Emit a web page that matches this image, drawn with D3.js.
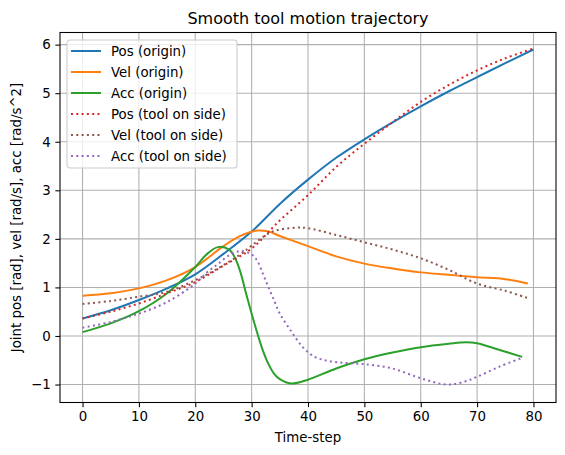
<!DOCTYPE html>
<html>
<head>
<meta charset="utf-8">
<script src="https://cdn.jsdelivr.net/npm/d3@7"></script>
<style>
  body { margin: 0; background: #fff; }
  text { font-family: "DejaVu Sans", sans-serif; fill: #000; }
</style>
</head>
<body>
<div id="chart"></div>
<script>
//// DATA ////

// time-steps and values
var posOriginT = [0, 5, 10, 15, 20, 25, 30, 35, 40, 45, 50, 55, 60, 65, 70, 75, 80];
var posOrigin  = [0.36, 0.53, 0.74, 0.98, 1.27, 1.69, 2.15, 2.72, 3.22, 3.67, 4.05, 4.40, 4.73, 5.04, 5.33, 5.62, 5.90];

var velOriginT = [0, 5, 10, 15, 20, 25, 28, 31, 33, 35, 40, 45, 50, 55, 60, 65, 70, 75, 79];
var velOrigin  = [0.83, 0.88, 0.98, 1.15, 1.42, 1.85, 2.06, 2.17, 2.15, 2.06, 1.85, 1.64, 1.49, 1.39, 1.31, 1.26, 1.21, 1.17, 1.08];

var accOriginT = [0, 5, 10, 15, 20, 22, 24, 26, 27, 28, 29, 30, 31, 32, 33, 34, 35, 37, 40, 45, 50, 55, 60, 65, 68, 70, 74, 78];
var accOrigin  = [0.08, 0.26, 0.51, 0.88, 1.42, 1.68, 1.83, 1.78, 1.62, 1.32, 0.88, 0.46, 0.06, -0.30, -0.58, -0.78, -0.89, -0.98, -0.90, -0.67, -0.48, -0.34, -0.23, -0.16, -0.13, -0.15, -0.29, -0.43];

var posToolT = [0, 5, 10, 15, 20, 25, 30, 35, 40, 45, 50, 55, 60, 65, 70, 75, 80];
var posTool  = [0.36, 0.50, 0.67, 0.88, 1.11, 1.45, 1.80, 2.38, 2.90, 3.48, 3.96, 4.40, 4.82, 5.17, 5.47, 5.72, 5.92];

var velToolT = [0, 5, 10, 15, 20, 24, 28, 30, 33.5, 37.7, 40, 45, 50, 55, 60, 65, 70, 75, 79];
var velTool  = [0.66, 0.72, 0.81, 0.91, 1.15, 1.39, 1.68, 1.86, 2.14, 2.23, 2.22, 2.08, 1.93, 1.78, 1.60, 1.36, 1.08, 0.93, 0.78];

var accToolT = [0, 5, 10, 15, 20, 22, 24, 26, 28, 30, 31, 32, 33, 34, 35, 37, 39, 41, 43, 46, 50, 55, 60, 64.5, 67.5, 70, 74, 78];
var accTool  = [0.17, 0.29, 0.46, 0.70, 1.08, 1.30, 1.48, 1.66, 1.75, 1.68, 1.55, 1.28, 1.00, 0.73, 0.46, 0.10, -0.22, -0.42, -0.50, -0.55, -0.58, -0.67, -0.87, -1.00, -0.95, -0.84, -0.63, -0.45];

var xTicks = [0, 10, 20, 30, 40, 50, 60, 70, 80];
var yTicks = [-1, 0, 1, 2, 3, 4, 5, 6];

var series = [
  { name: "Pos (origin)",       t: posOriginT, v: posOrigin, color: "#1f77b4", dotted: false },
  { name: "Vel (origin)",       t: velOriginT, v: velOrigin, color: "#ff7f0e", dotted: false },
  { name: "Acc (origin)",       t: accOriginT, v: accOrigin, color: "#2ca02c", dotted: false },
  { name: "Pos (tool on side)", t: posToolT,   v: posTool,   color: "#d62728", dotted: true },
  { name: "Vel (tool on side)", t: velToolT,   v: velTool,   color: "#8c564b", dotted: true },
  { name: "Acc (tool on side)", t: accToolT,   v: accTool,   color: "#9467bd", dotted: true }
];

//// SET UP ////

var svgWidth = 565;
var svgHeight = 455;

var margin = { top: 32.5, right: 9, bottom: 52.5, left: 60 };

var width = svgWidth - margin.left - margin.right;
var height = svgHeight - margin.top - margin.bottom;

var svg = d3.select("#chart")
  .append("svg")
  .attr("width", svgWidth)
  .attr("height", svgHeight);

var chartGroup = svg.append("g")
  .attr("transform", `translate(${margin.left}, ${margin.top})`);

var xScale = d3.scaleLinear().domain([-4, 84]).range([0, width]);
var yScale = d3.scaleLinear().domain([-1.37, 6.25]).range([height, 0]);

// grid
chartGroup.append("g")
  .selectAll("line")
  .data(xTicks)
  .enter()
  .append("line")
  .attr("x1", d => xScale(d)).attr("x2", d => xScale(d))
  .attr("y1", 0).attr("y2", height)
  .attr("stroke", "#b0b0b0")
  .attr("stroke-width", 1.07);

chartGroup.append("g")
  .selectAll("line")
  .data(yTicks)
  .enter()
  .append("line")
  .attr("x1", 0).attr("x2", width)
  .attr("y1", d => yScale(d)).attr("y2", d => yScale(d))
  .attr("stroke", "#b0b0b0")
  .attr("stroke-width", 1.07);

// lines
var line = d3.line()
  .x(d => xScale(d[0]))
  .y(d => yScale(d[1]))
  .curve(d3.curveCatmullRom.alpha(0.5));

series.forEach(function(s) {
  var pts = s.t.map((t, i) => [t, s.v[i]]);
  chartGroup.append("path")
    .datum(pts)
    .attr("d", line)
    .attr("fill", "none")
    .attr("stroke", s.color)
    .attr("stroke-width", 2)
    .attr("stroke-dasharray", s.dotted ? "2,3.3" : null);
});

// axes
var fmt = d => d < 0 ? "\u2212" + Math.abs(d) : String(d);

var bottomAxis = d3.axisBottom(xScale).tickValues(xTicks).tickSize(4.67).tickPadding(4.67).tickFormat(fmt);
var leftAxis = d3.axisLeft(yScale).tickValues(yTicks).tickSize(4.67).tickPadding(4.67).tickFormat(fmt);

var xAxis = chartGroup.append("g")
  .attr("transform", `translate(0, ${height})`)
  .call(bottomAxis);

var yAxis = chartGroup.append("g")
  .call(leftAxis);

[xAxis, yAxis].forEach(function(ax) {
  ax.select(".domain").remove();
  ax.selectAll(".tick line").attr("stroke", "#000").attr("stroke-width", 1.07);
  ax.selectAll(".tick text")
    .style("font-family", "DejaVu Sans, sans-serif")
    .style("font-size", "13.33px")
    .attr("fill", "#000");
});

// frame
chartGroup.append("rect")
  .attr("width", width)
  .attr("height", height)
  .attr("fill", "none")
  .attr("stroke", "#000")
  .attr("stroke-width", 1.07);

// title and axis labels
svg.append("text")
  .attr("x", margin.left + width / 2)
  .attr("y", 24)
  .attr("text-anchor", "middle")
  .style("font-size", "16px")
  .text("Smooth tool motion trajectory");

svg.append("text")
  .attr("x", margin.left + width / 2)
  .attr("y", 442)
  .attr("text-anchor", "middle")
  .style("font-size", "13.33px")
  .text("Time-step");

svg.append("text")
  .attr("transform", `translate(21, ${margin.top + height / 2}) rotate(-90)`)
  .attr("text-anchor", "middle")
  .style("font-size", "13.33px")
  .text("Joint pos [rad], vel [rad/s], acc [rad/s^2]");

// legend
var legend = chartGroup.append("g")
  .attr("transform", "translate(7, 7.5)");

legend.append("rect")
  .attr("width", 170)
  .attr("height", 128)
  .attr("rx", 3)
  .attr("fill", "#fff")
  .attr("fill-opacity", 0.8)
  .attr("stroke", "#cccccc")
  .attr("stroke-width", 1.07);

var items = legend.selectAll("g.item")
  .data(series)
  .enter()
  .append("g")
  .attr("transform", (d, i) => `translate(0, ${11 + i * 21})`);

items.append("line")
  .attr("x1", 4).attr("x2", 34)
  .attr("stroke", d => d.color)
  .attr("stroke-width", 2)
  .attr("stroke-dasharray", d => d.dotted ? "2,3.3" : null);

items.append("text")
  .attr("x", 44)
  .attr("dy", "0.35em")
  .style("font-size", "13.33px")
  .text(d => d.name);
</script>
</body>
</html>
